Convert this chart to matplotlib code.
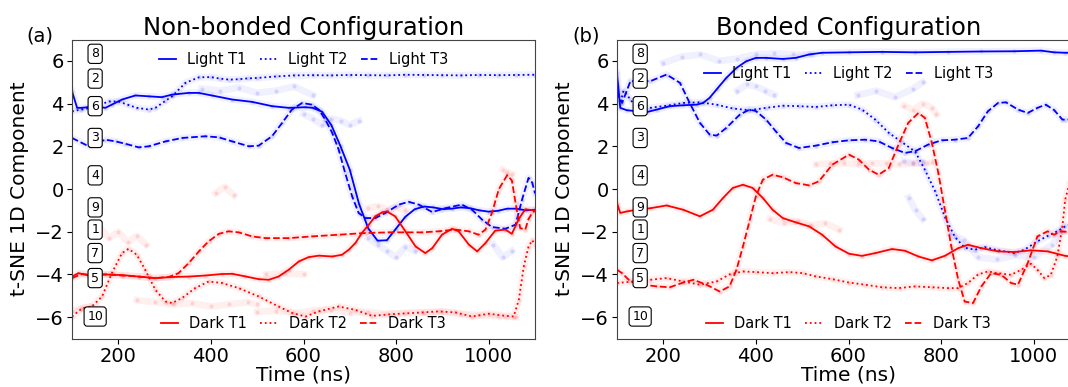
import matplotlib.pyplot as plt
import numpy as np

# ---------------- (a) Non-bonded: smoothed trajectories ----------------
a_l1_t = [100, 111, 122, 150, 172, 186, 208, 237, 266, 294, 316, 352, 374, 402, 446, 489, 532, 568, 604,
          620, 640, 660, 680, 700, 720, 740, 760, 780, 800, 820, 840, 860, 880, 900, 920, 940, 960, 980,
          1000, 1020, 1040, 1060, 1080, 1100]
a_l1_y = [4.58, 3.8, 3.8, 3.88, 3.8, 3.95, 4.19, 4.38, 4.34, 4.3, 4.42, 4.5, 4.5, 4.38, 4.19, 4.08, 3.88, 3.8, 3.83,
          3.8, 3.62, 3.0, 2.0, 0.9, -0.7, -1.85, -2.42, -2.4, -1.85, -1.3, -0.95, -0.82, -0.86, -0.94, -0.92,
          -0.86, -0.9, -1.0, -1.06, -1.02, -0.92, -0.92, -1.0, -0.97]

a_l2_t = [100, 120, 140, 160, 180, 200, 220, 240, 266, 280, 300, 316, 345, 374, 400, 420, 440, 460, 480, 500,
          540, 580, 620, 660, 700, 740, 780, 820, 860, 900, 940, 980, 1020, 1060, 1100]
a_l2_y = [3.64, 3.72, 3.8, 3.95, 4.1, 4.1, 3.95, 3.8, 3.72, 3.8, 4.1, 4.34, 4.97, 5.23, 5.24, 5.17, 5.12, 5.14,
          5.18, 5.2, 5.27, 5.32, 5.33, 5.32, 5.34, 5.33, 5.32, 5.35, 5.34, 5.33, 5.32, 5.34, 5.33, 5.34, 5.35]

a_l3_t = [100, 136, 172, 194, 215, 244, 266, 302, 338, 388, 417, 446, 482, 503, 532, 554, 575, 597, 618, 633,
          647, 662, 676, 690, 705, 719, 734, 755, 777, 806, 827, 849, 878, 906, 942, 964, 986, 1007, 1036,
          1058, 1072, 1086, 1094, 1100]
a_l3_y = [2.39, 2.0, 2.31, 2.23, 2.12, 1.95, 2.0, 2.23, 2.39, 2.47, 2.42, 2.23, 2.0, 2.03, 2.47, 3.1, 3.72,
          4.03, 3.95, 3.72, 3.25, 2.63, 1.84, 0.75, -0.34, -1.12, -1.36, -1.36, -1.12, -0.73, -0.6, -0.73,
          -1.08, -0.9, -0.73, -0.97, -1.44, -1.78, -1.86, -1.67, -0.5, 0.52, 0.3, -0.2]

a_d1_t = [100, 114, 136, 172, 208, 244, 280, 316, 352, 388, 424, 446, 474, 503, 525, 546, 568, 590, 611, 633,
          662, 683, 698, 712, 726, 741, 755, 770, 780, 798, 820, 842, 863, 878, 899, 921, 935, 957, 975, 993,
          1014, 1036, 1050, 1065, 1079, 1100]
a_d1_y = [-4.1, -3.94, -4.05, -4.0, -4.03, -4.1, -4.17, -4.12, -4.1, -4.05, -3.98, -3.97, -4.09, -4.22, -4.25,
          -4.1, -3.78, -3.39, -3.19, -3.12, -3.16, -3.08, -2.84, -2.53, -2.06, -1.67, -1.28, -1.09, -1.05,
          -1.28, -1.98, -2.69, -3.0, -2.77, -2.14, -1.86, -1.98, -2.6, -2.92, -2.53, -1.95, -1.9, -2.1, -1.4,
          -0.95, -1.0]

a_d2_t = [100, 122, 143, 165, 186, 208, 222, 240, 258, 280, 302, 316, 338, 366, 395, 424, 460, 503, 546, 575,
          604, 633, 676, 712, 748, 791, 856, 892, 928, 964, 1000, 1036, 1054, 1065, 1076, 1086, 1094, 1100]
a_d2_y = [-5.97, -5.58, -5.5, -5.03, -3.94, -3.0, -2.8, -3.08, -3.78, -4.72, -5.27, -5.34, -5.1, -4.64, -4.33,
          -4.4, -4.64, -5.03, -5.5, -5.8, -5.97, -5.73, -5.5, -5.66, -5.94, -5.86, -5.78, -5.73, -5.78, -5.97,
          -5.84, -5.94, -5.97, -5.19, -3.6, -2.7, -2.4, -2.6]

a_d3_t = [100, 122, 143, 172, 208, 244, 280, 309, 330, 352, 374, 395, 417, 438, 460, 489, 518, 568, 618, 676,
          734, 784, 856, 892, 928, 957, 978, 993, 1007, 1022, 1040, 1050, 1058, 1068, 1079, 1086, 1094, 1100]
a_d3_y = [-4.17, -3.98, -4.02, -4.0, -4.05, -4.1, -4.17, -4.12, -3.94, -3.47, -2.92, -2.45, -2.1, -1.98, -2.03,
          -2.22, -2.3, -2.3, -2.22, -2.14, -2.06, -2.03, -2.03, -1.98, -1.9, -1.98, -2.14, -1.9, -1.12, 0.0,
          0.65, 0.4, -0.66, -1.83, -1.9, -1.4, -1.12, -1.0]

# ---------------- (b) Bonded: smoothed trajectories ----------------
b_l1_t = [100, 107, 121, 143, 164, 186, 214, 243, 272, 286, 300, 315, 336, 358, 379, 400, 422, 458, 486, 515,
          543, 601, 672, 744, 815, 887, 958, 1016, 1044, 1068, 1100]
b_l1_y = [5.44, 3.8, 3.69, 3.64, 3.6, 3.72, 3.88, 3.92, 3.95, 4.03, 4.27, 4.66, 5.2, 5.67, 5.98, 6.14, 6.14,
          6.09, 6.14, 6.3, 6.38, 6.4, 6.42, 6.4, 6.42, 6.44, 6.45, 6.48, 6.4, 6.38, 6.38]

b_l2_t = [100, 107, 114, 129, 143, 172, 207, 243, 279, 315, 350, 386, 422, 458, 493, 529, 565, 601, 629, 658,
          687, 715, 744, 765, 787, 808, 830, 851, 873, 894, 923, 958, 980, 1008, 1030, 1051, 1068, 1100]
b_l2_y = [4.8, 4.0, 4.6, 4.2, 3.72, 3.8, 3.9, 4.03, 4.06, 3.95, 3.77, 3.69, 3.8, 3.9, 3.88, 3.84, 3.92, 3.95,
          3.72, 3.25, 2.63, 2.2, 1.75, 0.9, -0.1, -1.3, -2.25, -2.75, -2.84, -2.72, -2.87, -3.0, -2.84, -2.45,
          -2.2, -1.98, -1.75, -1.5]

b_l3_t = [100, 111, 129, 172, 207, 236, 257, 279, 300, 315, 336, 365, 386, 400, 422, 443, 465, 493, 529, 565,
          601, 636, 665, 694, 722, 744, 772, 801, 830, 858, 880, 901, 923, 940, 966, 987, 1008, 1026, 1044,
          1062, 1068, 1100]
b_l3_y = [4.6, 4.03, 5.05, 5.05, 5.36, 4.97, 4.03, 3.1, 2.55, 2.5, 2.86, 3.48, 3.72, 3.65, 3.25, 2.7, 2.16,
          1.92, 2.03, 2.19, 2.28, 2.31, 2.23, 1.92, 1.69, 1.77, 2.08, 2.28, 2.31, 2.39, 2.94, 3.64, 4.03, 4.06,
          3.72, 3.56, 3.8, 3.95, 3.7, 3.25, 3.25, 3.3]

b_d1_t = [100, 107, 121, 143, 172, 207, 243, 279, 307, 329, 350, 372, 393, 415, 436, 458, 486, 515, 543, 572,
          601, 629, 658, 694, 722, 751, 780, 808, 837, 858, 887, 923, 958, 994, 1030, 1068, 1100]
b_d1_y = [-0.66, -1.12, -1.05, -0.97, -0.9, -0.77, -0.97, -1.28, -0.97, -0.42, 0.05, 0.2, 0.05, -0.42, -0.97,
          -1.36, -1.56, -1.75, -2.14, -2.69, -3.03, -3.13, -3.0, -2.81, -2.89, -3.16, -3.34, -3.13, -2.77,
          -2.61, -2.77, -2.92, -2.95, -2.87, -2.92, -3.13, -3.2]

b_d2_t = [100, 136, 172, 207, 243, 279, 315, 343, 372, 400, 436, 472, 501, 529, 565, 601, 636, 672, 708, 744,
          780, 815, 837, 858, 880, 901, 923, 951, 973, 994, 1008, 1023, 1037, 1051, 1062, 1068, 1080, 1100]
b_d2_y = [-4.4, -4.33, -4.25, -4.17, -4.33, -4.48, -4.33, -4.0, -3.86, -3.89, -3.94, -3.89, -3.94, -4.09,
          -4.22, -4.38, -4.48, -4.6, -4.64, -4.56, -4.6, -4.64, -4.64, -4.4, -4.0, -3.86, -3.94, -4.02, -3.78,
          -3.5, -3.78, -4.17, -4.02, -3.16, -1.75, -0.5, 0.5, 1.0]

b_d3_t = [100, 111, 129, 157, 186, 214, 243, 265, 293, 322, 343, 358, 372, 386, 400, 415, 436, 458, 486, 515,
          536, 565, 601, 622, 644, 665, 687, 708, 729, 751, 765, 780, 794, 808, 822, 837, 851, 869, 887, 908,
          930, 951, 966, 987, 1008, 1030, 1044, 1058, 1068, 1100]
b_d3_y = [-3.78, -3.94, -4.33, -4.48, -4.56, -4.6, -4.38, -4.25, -4.48, -4.8, -4.56, -3.78, -2.69, -1.52,
          -0.34, 0.44, 0.67, 0.55, 0.28, 0.17, 0.36, 1.14, 1.61, 1.38, 0.91, 0.67, 0.98, 2.08, 3.1, 3.56, 3.33,
          2.16, 0.75, -0.97, -2.69, -4.25, -5.27, -5.34, -4.56, -3.94, -4.02, -4.4, -4.48, -3.47, -2.22, -1.98,
          -2.14, -1.98, -2.0, -2.0]

# ---------------- raw t-SNE points (faint clouds) ----------------
a_raw_blue = [
    ([380, 420, 460, 500, 540, 580, 620], [4.7, 4.6, 4.75, 4.5, 4.6, 4.8, 4.4]),
    ([600, 620, 640, 660, 680, 700, 720], [3.5, 3.3, 3.0, 3.3, 3.2, 3.0, 3.2]),
    ([740, 760, 780, 800, 820, 840], [-2.3, -2.6, -2.9, -3.2, -2.7, -2.9]),
    ([1010, 1030, 1050], [-2.6, -3.2, -2.9]),
]
a_raw_red = [
    ([160, 180, 200, 220, 240, 260], [-1.8, -2.3, -2.0, -2.5, -2.2, -2.6]),
    ([240, 280, 320, 360, 400, 440, 480, 500], [-5.2, -5.3, -5.4, -5.35, -5.5, -5.4, -5.3, -5.4]),
    ([100, 120, 140, 160], [-5.7, -5.6, -5.5, -5.6]),
    ([500, 540, 580, 620, 660, 700, 740, 780, 820, 860, 900, 940, 980, 1020, 1060],
     [-5.75, -5.7, -5.8, -5.7, -5.65, -5.8, -5.75, -5.85, -5.8, -5.8, -5.75, -5.85, -5.9, -5.95, -6.0]),
    ([520, 560, 600], [-4.0, -3.95, -4.0]),
    ([740, 760, 780, 800, 820], [-0.9, -0.8, -0.95, -0.85, -1.0]),
    ([410, 430, 450], [-0.2, 0.1, -0.3]),
    ([1030, 1040, 1050], [0.9, 0.8, 0.7]),
]
b_raw_blue = [
    ([200, 240, 280, 320, 360, 400, 440, 480, 520], [5.9, 6.2, 6.3, 6.0, 6.1, 6.3, 6.35, 6.3, 6.3]),
    ([360, 380, 400, 420, 440], [4.6, 4.9, 4.8, 4.6, 4.4]),
    ([620, 660, 700, 740, 760], [4.4, 4.6, 4.3, 4.7, 5.0]),
    ([720, 740, 760], [1.3, 1.2, 1.25]),
    ([730, 745, 760], [-0.4, -1.0, -1.4]),
    ([820, 850, 880, 920, 960, 1000, 1040, 1060], [-2.1, -2.4, -3.2, -3.3, -3.1, -3.2, -2.6, -2.0]),
]
b_raw_red = [
    ([530, 560, 590, 620, 650, 680, 710, 740, 770, 780], [1.15, 1.2, 1.2, 1.15, 1.2, 1.2, 1.15, 1.2, 1.2, 1.25]),
    ([430, 460, 490, 520, 550, 580], [-1.4, -1.6, -1.5, -1.7, -1.6, -1.9]),
    ([720, 740, 760, 780, 790], [3.9, 3.7, 4.0, 3.8, 3.5]),
]

# cluster labels
box_labels = ["8", "2", "6", "3", "4", "9", "1", "7", "5", "10"]
box_y = [6.33, 5.17, 3.88, 2.39, 0.64, -0.86, -1.9, -3.0, -4.17, -5.97]

light_names = ["Light T1", "Light T2", "Light T3"]
dark_names = ["Dark T1", "Dark T2", "Dark T3"]
styles = ["-", ":", "--"]

panels = [
    dict(title="Non-bonded Configuration", tag="(a)",
         light=[(a_l1_t, a_l1_y), (a_l2_t, a_l2_y), (a_l3_t, a_l3_y)],
         dark=[(a_d1_t, a_d1_y), (a_d2_t, a_d2_y), (a_d3_t, a_d3_y)],
         raw_blue=a_raw_blue, raw_red=a_raw_red, leg_y=0.933),
    dict(title="Bonded Configuration", tag="(b)",
         light=[(b_l1_t, b_l1_y), (b_l2_t, b_l2_y), (b_l3_t, b_l3_y)],
         dark=[(b_d1_t, b_d1_y), (b_d2_t, b_d2_y), (b_d3_t, b_d3_y)],
         raw_blue=b_raw_blue, raw_red=b_raw_red, leg_y=0.887),
]

fig = plt.figure(figsize=(10.68, 3.87), dpi=100)
lefts = [72 / 1068, 617 / 1068]
tag_x = [40 / 1068, 586 / 1068]

for i, p in enumerate(panels):
    ax = fig.add_axes([lefts[i], 0.1253, 463 / 1068, 0.7726])

    # faint clouds
    for col, key, lines in [("blue", "raw_blue", p["light"]), ("red", "raw_red", p["dark"])]:
        for t, y in lines + p[key]:
            ax.plot(t, y, color=col, lw=5, alpha=0.06)
            ax.scatter(t, y, s=9, color=col, alpha=0.12, lw=0)

    hl = []
    for (t, y), ls, name in zip(p["light"], styles, light_names):
        h, = ax.plot(t, y, ls, color="blue", lw=1.3, label=name)
        hl.append(h)
    hd = []
    for (t, y), ls, name in zip(p["dark"], styles, dark_names):
        h, = ax.plot(t, y, ls, color="red", lw=1.3, label=name)
        hd.append(h)

    for lab, yy in zip(box_labels, box_y):
        ax.text(150, yy, lab, ha="center", va="center", fontsize=9, zorder=5,
                bbox=dict(boxstyle="round,pad=0.25", fc="white", ec="black", lw=0.8))

    kw = dict(ncol=3, frameon=False, fontsize=10.5, handlelength=1.2, handletextpad=0.75,
              columnspacing=0.9, loc="center")
    leg1 = ax.legend(handles=hl, bbox_to_anchor=(0.5, p["leg_y"]), **kw)
    ax.add_artist(leg1)
    ax.legend(handles=hd, bbox_to_anchor=(0.5, 0.05), **kw)

    ax.set_xlim(100, 1100)
    ax.set_ylim(-7, 7)
    ax.set_xticks([200, 400, 600, 800, 1000])
    ax.set_yticks([-6, -4, -2, 0, 2, 4, 6])
    ax.tick_params(labelsize=14, length=3.5, width=0.8, pad=2.5)
    for s in ax.spines.values():
        s.set_color("#444444")
    ax.set_xlabel("Time (ns)", fontsize=14.5, labelpad=0)
    ax.set_ylabel("t-SNE 1D Component", fontsize=14.5)
    ax.set_title(p["title"], fontsize=17.5, pad=2)
    fig.text(tag_x[i], 0.907, p["tag"], fontsize=14, ha="center", va="center")

fig.savefig("out.png", dpi=100)
